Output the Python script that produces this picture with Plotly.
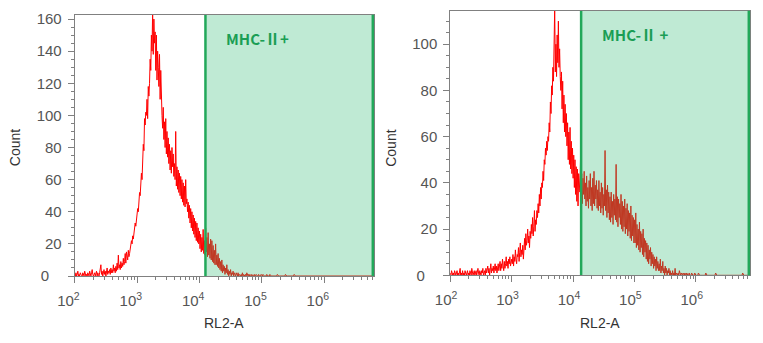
import numpy as np
import plotly.graph_objects as go

# ---------------- data ----------------
# histogram bins: log10(RL2-A) starting at 2.00, one bin every 0.01 decade
BIN_START_LOG = 2.0
BIN_STEP_LOG = 0.01

left_counts = [
    1, 0, 2, 0, 1, 3, 0, 1, 0, 2, 1, 0, 0, 2, 1, 0, 3, 1, 0, 1,              # 2.00
    0, 2, 1, 0, 3, 1, 0, 2, 4, 1, 0, 1, 2, 0, 1, 3, 0, 2, 1, 0,              # 2.20
    2, 4, 7, 1, 3, 0, 2, 4, 1, 3, 0, 2, 5, 1, 3, 2, 4, 1, 5, 2,              # 2.40
    4, 2, 7, 3, 5, 2, 6, 3, 8, 4, 13, 5, 7, 4, 9, 5, 8, 6, 11, 7,            # 2.60
    9, 14, 8, 15, 11, 10, 16, 12, 14, 17, 18, 22, 20, 25, 23, 28, 27, 33, 31, 37,  # 2.80
    36, 42, 40, 47, 52, 50, 58, 64, 60, 68, 82, 78, 98, 94, 102, 100, 110, 98, 118, 112,  # 3.00
    120, 135, 128, 150, 140, 165, 138, 160, 145, 152, 128, 150, 122, 140, 130, 118, 138, 110, 128, 104,  # 3.20
    100, 92, 105, 85, 96, 80, 98, 76, 90, 74, 86, 70, 82, 66, 78, 64, 80, 68, 76, 62,  # 3.40
    70, 60, 90, 56, 68, 54, 66, 52, 64, 50, 62, 48, 60, 46, 58, 44, 56, 43, 60, 45,  # 3.60
    48, 40, 46, 36, 44, 33, 42, 30, 40, 28, 38, 26, 36, 24, 34, 22, 33, 21, 30, 20,  # 3.80
    28, 17, 26, 15, 24, 16, 29, 14, 22, 13, 30, 15, 24, 12, 27, 13, 20, 11, 23, 10,  # 4.00
    22, 9, 19, 8, 16, 7, 20, 7, 13, 6, 14, 5, 11, 4, 9, 3, 10, 2, 7, 3,      # 4.20
    6, 1, 5, 2, 7, 1, 4, 0, 3, 1, 4, 0, 2, 1, 3, 0, 2, 1, 0, 2,              # 4.40
    1, 0, 2, 0, 1, 0, 0, 1, 0, 2, 0, 1, 0, 0, 1, 0, 2, 0, 0, 1,              # 4.60
    0, 1, 0, 0, 1, 0, 0, 0, 1, 0, 0, 1, 0, 0, 0, 1, 0, 0, 0, 1,              # 4.80
    0, 0, 1, 0, 0, 0, 0, 0, 1, 0, 0, 0, 0, 1, 0, 0, 0, 0, 0, 0,              # 5.00
    0, 0, 0, 0, 0, 1, 0, 0, 0, 0, 0, 0, 0, 0, 0, 0, 0, 0, 1, 0,              # 5.20
    0, 0, 0, 0, 0, 0, 0, 0, 0, 0, 0, 0, 1, 0, 0, 0, 0, 0, 0, 0,              # 5.40
    0, 0, 0, 0, 0, 0, 0, 0, 0, 0, 0, 0, 0, 0, 0, 0, 0, 0, 0, 0,              # 5.60
    0, 0, 0, 0, 0, 0, 0, 0, 0, 0, 0, 0, 0, 0, 0, 0, 0, 0, 0, 0,              # 5.80
    0, 0, 0, 0, 0, 0, 0, 0, 0, 0, 0, 0, 0, 0, 0, 0, 0, 0, 0, 0,              # 6.00
    0, 0, 0, 0, 0, 0, 0, 0, 0, 0, 0, 0, 0, 0, 0, 0, 0, 0, 0, 0,              # 6.20
    0, 0, 0, 0, 0, 0, 0, 0, 0, 0, 0, 0, 0, 0, 0, 0, 0, 0, 0, 0,              # 6.40
    0, 0, 0, 0, 0, 0, 0, 0, 0, 0, 0, 0, 0, 0, 0, 0, 0, 0, 0, 0,              # 6.60
    0,                                                                       # 6.80
]

right_counts = [
    1, 0, 2, 1, 0, 1, 0, 2, 1, 0, 1, 2, 0, 1, 0, 1, 3, 0, 1, 0,              # 2.00
    2, 0, 1, 0, 2, 1, 0, 1, 2, 0, 1, 0, 2, 1, 0, 3, 1, 0, 1, 2,              # 2.20
    0, 1, 2, 0, 1, 3, 1, 0, 2, 1, 0, 2, 1, 3, 0, 1, 2, 0, 3, 1,              # 2.40
    2, 4, 1, 3, 0, 2, 5, 1, 3, 2, 4, 1, 3, 5, 2, 4, 1, 3, 5, 2,              # 2.60
    4, 6, 2, 5, 3, 7, 4, 2, 6, 3, 5, 8, 4, 6, 3, 7, 5, 8, 4, 6,              # 2.80
    7, 5, 9, 4, 8, 6, 11, 7, 5, 9, 8, 12, 6, 10, 14, 8, 11, 9, 13, 7,        # 3.00
    12, 16, 11, 18, 13, 15, 20, 14, 17, 12, 19, 16, 22, 18, 25, 17, 21, 28, 19, 24,  # 3.20
    22, 28, 25, 31, 27, 35, 30, 38, 33, 40, 38, 45, 41, 50, 48, 55, 52, 58, 54, 60,  # 3.40
    58, 66, 62, 75, 70, 82, 78, 90, 84, 96, 116, 88, 100, 86, 104, 92, 110, 90, 98, 86,  # 3.60
    80, 88, 72, 84, 66, 78, 62, 74, 60, 70, 56, 66, 50, 62, 48, 64, 46, 58, 44, 55,  # 3.80
    42, 52, 38, 50, 35, 47, 32, 46, 30, 44, 40, 36, 50, 34, 44, 31, 42, 35, 45, 33,  # 4.00
    40, 30, 43, 32, 38, 29, 41, 33, 44, 30, 38, 28, 42, 31, 45, 30, 39, 33, 41, 29,  # 4.20
    37, 28, 41, 30, 36, 27, 40, 29, 38, 26, 35, 30, 54, 28, 37, 25, 39, 27, 36, 24,  # 4.40
    34, 23, 36, 25, 32, 22, 35, 26, 33, 24, 48, 23, 34, 21, 33, 25, 31, 22, 35, 20,  # 4.60
    32, 19, 30, 21, 33, 18, 29, 20, 31, 17, 28, 19, 27, 16, 30, 15, 26, 17, 25, 14,  # 4.80
    24, 14, 27, 12, 22, 13, 20, 11, 23, 10, 19, 12, 18, 9, 20, 8, 16, 10, 15, 7,  # 5.00
    14, 6, 13, 5, 11, 7, 12, 4, 10, 5, 9, 3, 8, 4, 7, 2, 8, 3, 6, 2,        # 5.20
    5, 2, 7, 1, 4, 2, 6, 1, 3, 0, 4, 1, 3, 0, 2, 1, 3, 0, 2, 0,              # 5.40
    1, 0, 2, 0, 1, 0, 3, 0, 1, 0, 0, 1, 0, 2, 0, 0, 1, 0, 0, 1,              # 5.60
    0, 0, 1, 0, 0, 1, 0, 0, 0, 1, 0, 0, 0, 1, 0, 0, 0, 0, 1, 0,              # 5.80
    0, 0, 0, 0, 1, 0, 0, 0, 0, 0, 0, 0, 0, 0, 0, 0, 1, 0, 0, 0,              # 6.00
    0, 0, 0, 0, 0, 0, 0, 0, 0, 0, 0, 0, 1, 0, 0, 0, 0, 0, 0, 0,              # 6.20
    0, 0, 0, 0, 0, 0, 0, 0, 0, 0, 0, 0, 0, 0, 0, 0, 0, 0, 0, 0,              # 6.40
    0, 0, 0, 0, 0, 0, 0, 0, 0, 0, 0, 0, 0, 0, 0, 0, 1, 0, 0, 0,              # 6.60
    0, 0, 0, 0, 0, 0, 0, 0, 0,                                               # 6.80
]

# axis extents
left_x_range_log = [2.0, 6.80]
right_x_range_log = [2.0, 6.88]
left_y_max = 162.7
right_y_max = 114.5
left_y_ticks = [0, 20, 40, 60, 80, 100, 120, 140, 160]
right_y_ticks = [0, 20, 40, 60, 80, 100]

# gate thresholds (MHC-II+ region starts here and runs to the axis end)
left_gate = 12500
right_gate = 13500
gate_labels = ["MHC-Ⅱ+", "MHC-Ⅱ +"]

x_tick_vals = [1e2, 1e3, 1e4, 1e5, 1e6]
x_tick_text = ["10<sup>2</sup>", "10<sup>3</sup>", "10<sup>4</sup>",
               "10<sup>5</sup>", "10<sup>6</sup>"]
x_title = "RL2-A"
y_title = "Count"

# ---------------- styling ----------------
RED = "#ff0000"
GATE_FILL = "rgba(44,184,111,0.30)"
GATE_LINE = "#22a85a"
GATE_TEXT = "#1b9e55"
AXIS_GRAY = "#808080"
NBSP = "\u00a0"
TICK_FONT = dict(family="Liberation Sans, Arial", size=15, color="#555555")
TITLE_FONT = dict(family="Liberation Sans, Arial", size=14, color="#333333")

minor_x_vals = [k * 10 ** d for d in range(2, 7) for k in range(2, 10)]

W, H = 763, 343
panels = [
    dict(counts=left_counts, xr=left_x_range_log, ymax=left_y_max, gate=left_gate,
         yt=left_y_ticks, xpad=3,
         label=gate_labels[0], px=(74.7, 374.0), py=(14.7, 276.0), xa="x", ya="y"),
    dict(counts=right_counts, xr=right_x_range_log, ymax=right_y_max, gate=right_gate,
         yt=right_y_ticks, xpad=2,
         label=gate_labels[1], px=(450.3, 750.0), py=(10.7, 275.3), xa="x2", ya="y2"),
]

fig = go.Figure()
layout = dict(width=W, height=H, margin=dict(l=0, r=0, t=0, b=0, autoexpand=False),
              autosize=False,
              paper_bgcolor="white", plot_bgcolor="white", showlegend=False,
              annotations=[], shapes=[])

for i, p in enumerate(panels):
    counts = np.array(p["counts"], dtype=float)
    xs = 10 ** (BIN_START_LOG + BIN_STEP_LOG * np.arange(len(counts)))
    xmax = 10 ** p["xr"][1]
    # histogram
    fig.add_trace(go.Scatter(x=xs, y=counts, mode="lines",
                             line=dict(color=RED, width=1), xaxis=p["xa"], yaxis=p["ya"],
                             hoverinfo="skip"))
    # gate region (drawn above the histogram)
    fig.add_trace(go.Scatter(x=[p["gate"], xmax, xmax, p["gate"], p["gate"]],
                             y=[0, 0, p["ymax"], p["ymax"], 0],
                             mode="lines", fill="toself", fillcolor=GATE_FILL,
                             line=dict(width=0), xaxis=p["xa"], yaxis=p["ya"],
                             hoverinfo="skip"))
    fig.add_trace(go.Scatter(x=[p["gate"], p["gate"]], y=[0, p["ymax"]], mode="lines",
                             line=dict(color=GATE_LINE, width=2.5),
                             xaxis=p["xa"], yaxis=p["ya"], hoverinfo="skip"))

    x0, x1 = p["px"]
    ytop, ybot = p["py"]
    xdom = [x0 / W, x1 / W]
    ydom = [(H - ybot) / H, (H - ytop) / H]
    suffix = "" if i == 0 else "2"
    y_text = [str(v) + (NBSP * 3 if v == 0 else "") for v in p["yt"]]
    x_text = [t + NBSP * p["xpad"] for t in x_tick_text]
    layout["xaxis" + suffix] = dict(
        domain=xdom, anchor=p["ya"], type="log", range=p["xr"],
        tickmode="array", tickvals=x_tick_vals, ticktext=x_text,
        ticks="outside", ticklen=6, tickwidth=1, tickcolor=AXIS_GRAY,
        showline=True, linecolor=AXIS_GRAY, linewidth=1, mirror=True,
        showgrid=False, zeroline=False, tickfont=TICK_FONT, ticklabelstandoff=5,
        minor=dict(tickmode="array", tickvals=minor_x_vals, ticks="outside",
                   ticklen=3, tickwidth=1, tickcolor=AXIS_GRAY, showgrid=False),
    )
    layout["yaxis" + suffix] = dict(
        domain=ydom, anchor=p["xa"], range=[0, p["ymax"]],
        tickmode="array", tickvals=p["yt"], ticktext=y_text,
        ticks="outside", ticklen=6, tickwidth=1, tickcolor=AXIS_GRAY,
        showline=True, linecolor=AXIS_GRAY, linewidth=1, mirror=True,
        showgrid=False, zeroline=False, tickfont=TICK_FONT, ticklabelstandoff=3,
        minor=dict(tickmode="linear", tick0=0, dtick=5, ticks="outside", ticklen=3,
                   tickwidth=1, tickcolor=AXIS_GRAY, showgrid=False),
    )
    # right edge green border of gate
    layout["shapes"].append(dict(type="line", xref=p["xa"] + " domain", yref=p["ya"] + " domain",
                                 x0=0.996, x1=0.996, y0=0, y1=1,
                                 line=dict(color=GATE_LINE, width=2.5), layer="above"))
    # gate label
    layout["annotations"].append(dict(text=p["label"], xref=p["xa"] + " domain",
                                      yref=p["ya"] + " domain", x=0.499, y=0.909,
                                      xanchor="left", yanchor="middle", showarrow=False,
                                      font=dict(family="Noto Sans CJK SC, Open Sans", size=15,
                                                color=GATE_TEXT, weight="bold")))
    # axis titles
    layout["annotations"].append(dict(text=x_title, xref="paper", yref="paper",
                                      x=(x0 + x1) / 2 / W, y=(H - 322.5) / H,
                                      xanchor="center", yanchor="middle", showarrow=False,
                                      font=TITLE_FONT))
    layout["annotations"].append(dict(text=y_title, xref="paper", yref="paper",
                                      x=(x0 - 59.5) / W, y=(H - 148) / H, textangle=-90,
                                      xanchor="center", yanchor="middle", showarrow=False,
                                      font=TITLE_FONT))

fig.update_layout(**layout)
fig.write_html("out.html", config={"responsive": False},
               post_script="document.body.style.margin='0';"
                           "document.body.style.padding='0';"
                           "document.body.style.overflow='hidden';")
